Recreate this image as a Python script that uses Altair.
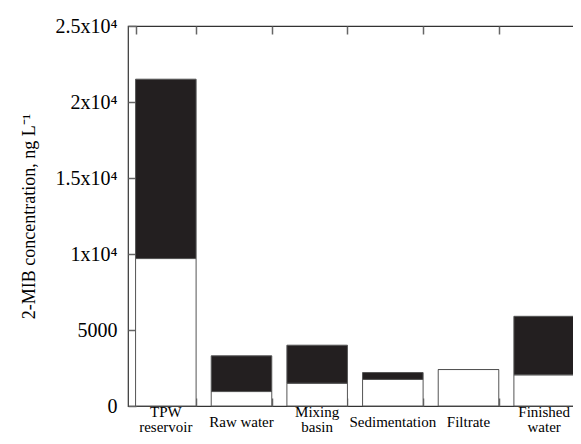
import altair as alt
import pandas as pd

# ---- data ----
categories = ["TPW\nreservoir", "Raw water", "Mixing\nbasin", "Sedimentation", "Filtrate", "Finished\nwater"]
lower_values = [9700, 950, 1500, 1750, 2400, 2050]      # white (lower) part of each bar
total_values = [21500, 3300, 4000, 2200, 2400, 5900]    # top of each bar (black part above white)
y_tick_values = [0, 5000, 10000, 15000, 20000, 25000]
y_tick_labels = ["0", "5000", "1x10⁴", "1.5x10⁴", "2x10⁴", "2.5x10⁴"]
y_title = "2-MIB concentration, ng L⁻¹"

df = pd.DataFrame({"stage": categories, "lower": lower_values, "total": total_values})

FONT = "Liberation Serif"
TICK_COLOR = "#666666"
W, H = 454, 380

ylabel_expr = "{" + ",".join(f"'{v}':'{l}'" for v, l in zip(y_tick_values, y_tick_labels)) + "}[''+datum.value]"

xscale = alt.Scale(domain=categories, paddingInner=0.2, paddingOuter=0.1)
yscale = alt.Scale(domain=[0, 25000], nice=False, zero=True)

x_bottom = alt.X(
    "stage:N", sort=categories, scale=xscale,
    axis=alt.Axis(
        title=None, orient="bottom", offset=-8, tickSize=8, domain=False,
        tickBand="extent", labels=False,
        tickColor=TICK_COLOR, tickWidth=1.5,
    ),
)
y_left = alt.Y(
    "lower:Q", scale=yscale,
    axis=alt.Axis(
        title=y_title, orient="left", offset=-8, tickSize=8, domain=False,
        values=y_tick_values, labelExpr=ylabel_expr, labelFont=FONT,
        labelFontSize=20, labelColor="black", labelPadding=11,
        titleFont=FONT, titleFontSize=18, titleFontWeight="normal",
        titleColor="black", titlePadding=17,
        tickColor=TICK_COLOR, tickWidth=1.5, grid=False,
    ),
)
x_plain = alt.X("stage:N", sort=categories, scale=xscale, axis=None)

white_bars = alt.Chart(df).mark_bar(fill="white", stroke="#555555", strokeWidth=1).encode(
    x=x_bottom, y=y_left
)
black_bars = alt.Chart(df).mark_bar(fill="#231f20", stroke="#555555", strokeWidth=1).encode(
    x=x_plain,
    y=alt.Y("lower:Q", scale=yscale, axis=None),
    y2="total:Q",
)
# invisible layer that carries the mirrored top/right tick axes
mirror = alt.Chart(df).mark_bar(opacity=0).encode(
    x=alt.X(
        "stage:N", sort=categories, scale=xscale,
        axis=alt.Axis(title=None, orient="top", offset=-8, tickSize=8, domain=False,
                      labels=False, tickBand="extent", tickColor=TICK_COLOR, tickWidth=1.5),
    ),
    y=alt.Y(
        "total:Q", scale=yscale,
        axis=alt.Axis(title=None, orient="right", offset=-8, tickSize=8, domain=False,
                      labels=False, values=y_tick_values, tickColor=TICK_COLOR,
                      tickWidth=1.5, grid=False),
    ),
)

# category labels under the axis (two-line labels centred against one-line ones)
label_base = alt.Chart(df).transform_calculate(lines="split(datum.stage, '\\n')")
two_line = label_base.transform_filter("indexof(datum.stage, '\\n') >= 0").mark_text(
    font=FONT, fontSize=15, color="black", baseline="alphabetic", lineHeight=15
).encode(x=x_plain, y=alt.value(H + 11), text="lines:N")
one_line = label_base.transform_filter("indexof(datum.stage, '\\n') < 0").mark_text(
    font=FONT, fontSize=15, color="black", baseline="alphabetic"
).encode(x=x_plain, y=alt.value(H + 21), text="stage:N")

chart = (
    alt.layer(white_bars, black_bars, mirror, two_line, one_line)
    .resolve_axis(x="independent", y="independent")
    .properties(
        width=W, height=H,
        autosize=alt.AutoSizeParams(type="none"),
        padding={"left": 120, "top": 18, "right": -9, "bottom": 30},
        background="white",
    )
    .configure_view(stroke="#333333", strokeWidth=1.2)
)

chart.save("out.html", embed_options={"renderer": "svg", "actions": False})
